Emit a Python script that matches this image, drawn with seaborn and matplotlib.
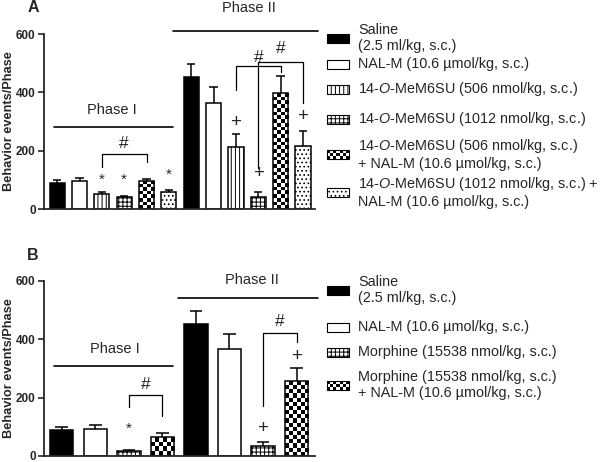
import numpy as np
import pandas as pd
import matplotlib
matplotlib.use('Agg')
import matplotlib.pyplot as plt
import seaborn as sns
from matplotlib.patches import Rectangle

# ---- data ----
A_labels = [
    'Saline\n(2.5 ml/kg, s.c.)',
    'NAL-M (10.6 \u00b5mol/kg, s.c.)',
    '14-$\\it{O}$-MeM6SU (506 nmol/kg, s.c.)',
    '14-$\\it{O}$-MeM6SU (1012 nmol/kg, s.c.)',
    '14-$\\it{O}$-MeM6SU (506 nmol/kg, s.c.)\n+ NAL-M (10.6 \u00b5mol/kg, s.c.)',
    '14-$\\it{O}$-MeM6SU (1012 nmol/kg, s.c.) +\nNAL-M (10.6 \u00b5mol/kg, s.c.)',
]
A_styles = ['solid', 'open', 'vlines', 'grid', 'checker', 'dots']
A_phase1 = [89, 96, 51, 41, 96, 57]
A_phase1_sem = [10, 10, 7, 4, 7, 8]
A_phase2 = [453, 364, 212, 40, 397, 215]
A_phase2_sem = [44, 55, 44, 20, 59, 53]

B_labels = [
    'Saline\n(2.5 ml/kg, s.c.)',
    'NAL-M (10.6 \u00b5mol/kg, s.c.)',
    'Morphine (15538 nmol/kg, s.c.)',
    'Morphine (15538 nmol/kg, s.c.)\n+ NAL-M (10.6 \u00b5mol/kg, s.c.)',
]
B_styles = ['solid', 'open', 'grid', 'checker']
B_phase1 = [90, 93, 18, 64]
B_phase1_sem = [10, 12, 4, 14]
B_phase2 = [453, 365, 35, 256]
B_phase2_sem = [44, 54, 12, 44]

# significance symbols: (symbol, bar index, y)
A_sig = [('*', 2, 99), ('*', 3, 99), ('*', 5, 117),
         ('+', 8, 298), ('+', 9, 123), ('+', 11, 316)]
B_sig = [('*', 2, 92), ('+', 6, 95), ('+', 7, 341)]
# brackets: (left bar, right bar, top y, left tip y, right tip y, label x, label y)
A_brackets = [(2, 4, 189, 144, 161, 3.0, 225),
              (8, 10, 490, 408, 470, 9.0, 521),
              (9, 11, 504, 140, 363, 10.0, 552)]
B_brackets = [(2, 3, 208, 167, 136, 2.5, 245),
              (6, 7, 423, 170, 392, 6.5, 460)]
# phase lines: (label, x0, x1, line y, text x, text y)
A_phases = [('Phase I', -0.14, 5.2, 281, 2.44, 340),
            ('Phase II', 5.2, 11.67, 610, 8.6, 690)]
B_phases = [('Phase I', -0.23, 3.33, 307, 1.58, 368),
            ('Phase II', 3.48, 7.64, 542, 5.68, 603)]

W, H = 600, 462
# legend rows, pixel y of each key box centre
A_key_y = [38, 64, 89, 119, 154, 192]
B_key_y = [290, 327, 352, 385]

sns.set_style('ticks')
plt.rcParams['font.family'] = ['Liberation Sans', 'DejaVu Sans']
plt.rcParams['mathtext.fontset'] = 'custom'
plt.rcParams['mathtext.rm'] = 'Liberation Sans'
plt.rcParams['mathtext.it'] = 'Liberation Sans:italic'
plt.rcParams['hatch.linewidth'] = 0.7

HATCH = {'solid': None, 'open': None, 'vlines': '||||', 'grid': '++++',
         'checker': None, 'dots': '....'}


def checker_box(fig, x0, y0, w, h, nx, ny):
    # key box with a checkerboard fill, figure pixel units
    for i in range(nx):
        for j in range(ny):
            if (i + j) % 2 == 0:
                fig.add_artist(Rectangle(((x0 + i * w / nx) / W, (y0 + j * h / ny) / H),
                                         w / nx / W, h / ny / H, transform=fig.transFigure,
                                         facecolor='black', edgecolor='none'))
    fig.add_artist(Rectangle((x0 / W, y0 / H), w / W, h / H, transform=fig.transFigure,
                             facecolor='none', edgecolor='black', lw=0.8))


def draw_key(fig, styles, labels, ys):
    for st, lab, yc in zip(styles, labels, ys):
        x0, w, h = 327, 22, 9
        y0 = H - yc - h / 2
        if st == 'checker':
            checker_box(fig, x0, y0, w, h, 7, 3)
        else:
            fig.add_artist(Rectangle((x0 / W, y0 / H), w / W, h / H, transform=fig.transFigure,
                                     facecolor='black' if st == 'solid' else 'white',
                                     edgecolor='black', lw=0.8, hatch=HATCH[st]))
        fig.text(358 / W, 1 - yc / H, lab, fontsize=10.4, ha='left', va='center',
                 linespacing=1.2)


def draw_panel(ax, phase1, sem1, phase2, sem2, styles, width, xlim,
               sig, brackets, phases, cell_px):
    n = len(styles)
    df = pd.DataFrame({
        'bar': [f'I-{i}' for i in range(n)] + [f'II-{i}' for i in range(n)],
        'value': phase1 + phase2,
        'sem': sem1 + sem2,
        'style': styles + styles,
    })
    sns.barplot(data=df, x='bar', y='value', order=list(df['bar']), color='white',
                edgecolor='black', linewidth=1.1, width=width, errorbar=None, ax=ax)
    ax.set_xlim(*xlim)
    ax.set_ylim(0, 600)

    for patch, st in zip(list(ax.patches), df['style']):
        patch.set_facecolor('black' if st == 'solid' else 'white')
        if HATCH[st]:
            patch.set_hatch(HATCH[st])
        if st == 'checker':
            x0, y0 = patch.get_x(), patch.get_y()
            x1, y1 = x0 + patch.get_width(), y0 + patch.get_height()
            p0 = ax.transData.transform((x0, y0))
            p1 = ax.transData.transform((x1, y1))
            nx = max(1, int(round((p1[0] - p0[0]) / cell_px)))
            ny = max(1, int(round((p1[1] - p0[1]) / cell_px)))
            board = np.add.outer(np.arange(ny), np.arange(nx)) % 2
            im = ax.imshow(board, cmap='gray_r', extent=(x0, x1, y0, y1), origin='upper',
                           aspect='auto', interpolation='nearest', zorder=0.5)
            im.set_clip_path(patch)
            patch.set_facecolor('none')
            patch.set_zorder(1)
    ax.set_xlim(*xlim)
    ax.set_ylim(0, 600)

    # upper-only SEM bars
    xs = np.arange(len(df))
    tops = df['value'].to_numpy()
    errs = tops + df['sem'].to_numpy()
    ax.vlines(xs, tops, errs, color='black', lw=1.1, zorder=3)
    ax.hlines(errs, xs - width * 0.27, xs + width * 0.27, color='black', lw=1.1, zorder=3)

    for sym, i, y in sig:
        fs = 11 if sym == '*' else 13.5
        ax.text(i, y, sym, ha='center', va='center', fontsize=fs, zorder=4)
    for l, r, y, ly, ry, tx, ty in brackets:
        ax.plot([l, l, r, r], [ly, y, y, ry], color='black', lw=0.9, clip_on=False)
        ax.text(tx, ty, '#', ha='center', va='center', fontsize=12.5, clip_on=False)
    for name, x0, x1, y, tx, ty in phases:
        ax.plot([x0, x1], [y, y], color='black', lw=1.2, clip_on=False)
        ax.text(tx, ty, name, ha='center', va='center', fontsize=10.5, clip_on=False)

    sns.despine(ax=ax)
    for s in ['left', 'bottom']:
        ax.spines[s].set_linewidth(1.3)
    ax.set_xticks([])
    ax.set_xlabel('')
    ax.set_yticks([0, 200, 400, 600])
    ax.tick_params(axis='y', length=4, width=1.2, labelsize=8.5, pad=2)
    for t in ax.get_yticklabels():
        t.set_fontweight('bold')
    ax.set_ylabel('Behavior events/Phase', fontsize=9.2, fontweight='bold')
    ax.yaxis.set_label_coords(-0.106, 0.5)


fig = plt.figure(figsize=(6, 4.62), dpi=100)
axA = fig.add_axes([0.0733, 0.5476, 0.4517, 0.3788])
axB = fig.add_axes([0.0733, 0.0130, 0.4517, 0.3791])

draw_panel(axA, A_phase1, A_phase1_sem, A_phase2, A_phase2_sem, A_styles, 0.68,
           (-0.59, 11.54), A_sig, A_brackets, A_phases, 3.7)
draw_panel(axB, B_phase1, B_phase1_sem, B_phase2, B_phase2_sem, B_styles, 0.70,
           (-0.53, 7.55), B_sig, B_brackets, B_phases, 4.2)

draw_key(fig, A_styles, A_labels, A_key_y)
draw_key(fig, B_styles, B_labels, B_key_y)

fig.text(33 / W, 1 - 8 / H, 'A', fontsize=11.5, fontweight='bold', ha='center', va='center')
fig.text(33 / W, 1 - 256 / H, 'B', fontsize=11.5, fontweight='bold', ha='center', va='center')

fig.savefig('out.png', dpi=100)
